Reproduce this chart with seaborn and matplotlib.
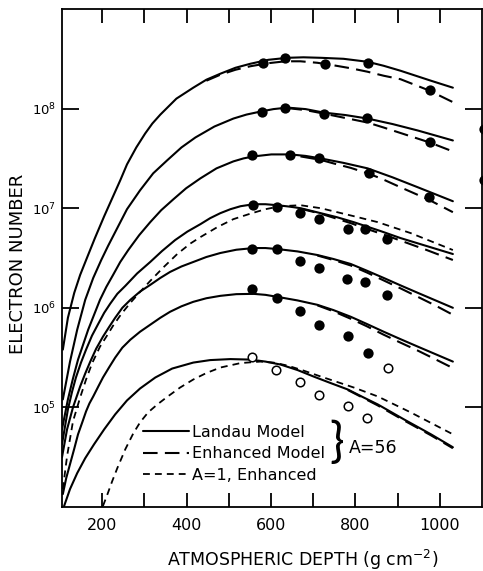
import numpy as np
import matplotlib
matplotlib.use("Agg")
import matplotlib.pyplot as plt
import seaborn as sns
from matplotlib.lines import Line2D
from matplotlib.ticker import NullLocator

# atmospheric depth (g cm^-2) and log10 of electron number
# Landau model, A=56, seven primary energies (top to bottom)
land1_x = [107, 119, 134, 148, 164, 183, 205, 224, 243, 259, 281, 302, 319, 338, 376, 416, 447, 480,
           516, 551, 594, 639, 677, 718, 772, 829, 867, 907, 979, 1031]
land1_n = [5.58, 5.90, 6.15, 6.33, 6.50, 6.70, 6.92, 7.10, 7.28, 7.44, 7.61, 7.75, 7.85, 7.94, 8.10, 8.21, 8.29, 8.35,
           8.41, 8.45, 8.49, 8.51, 8.515, 8.51, 8.50, 8.47, 8.43, 8.38, 8.28, 8.21]
land2_x = [107, 124, 141, 160, 179, 198, 214, 231, 259, 290, 321, 354, 388, 421, 466, 511, 542, 575,
           606, 639, 682, 725, 777, 829, 888, 948, 1031]
land2_n = [5.08, 5.46, 5.78, 6.08, 6.30, 6.48, 6.62, 6.76, 6.99, 7.18, 7.35, 7.48, 7.61, 7.71, 7.82, 7.90, 7.94, 7.97,
           7.995, 8.01, 7.995, 7.96, 7.935, 7.90, 7.845, 7.78, 7.68]
land3_x = [105, 119, 131, 143, 167, 195, 210, 226, 243, 262, 288, 314, 340, 369, 399, 433, 471, 511,
           535, 559, 601, 646, 682, 718, 772, 829, 888, 948, 1031]
land3_n = [4.78, 5.08, 5.29, 5.48, 5.78, 6.08, 6.21, 6.33, 6.46, 6.58, 6.73, 6.86, 6.98, 7.09, 7.20, 7.30, 7.40, 7.47,
           7.50, 7.52, 7.54, 7.54, 7.525, 7.50, 7.455, 7.40, 7.31, 7.21, 7.07]
land4_x = [105, 119, 129, 138, 150, 162, 176, 191, 205, 219, 236, 255, 283, 314, 342, 373, 402, 433,
           456, 480, 504, 528, 559, 587, 615, 642, 670, 694, 718, 756, 796, 860, 907, 969, 1031]
land4_n = [4.63, 4.98, 5.16, 5.30, 5.45, 5.58, 5.72, 5.84, 5.95, 6.04, 6.14, 6.22, 6.345, 6.46, 6.57, 6.68, 6.765, 6.84,
           6.90, 6.95, 6.99, 7.02, 7.04, 7.04, 7.03, 7.017, 7.00, 6.975, 6.95, 6.91, 6.86, 6.77, 6.70, 6.62, 6.54]
land5_x = [105, 117, 131, 148, 160, 172, 186, 202, 217, 231, 248, 267, 290, 314, 338, 361, 388, 416,
           447, 480, 518, 559, 587, 615, 663, 710, 748, 789, 827, 867, 907, 948, 1031]
land5_n = [4.50, 4.78, 5.00, 5.21, 5.34, 5.46, 5.59, 5.71, 5.81, 5.90, 6.00, 6.08, 6.163, 6.23, 6.30, 6.36, 6.415, 6.46,
           6.51, 6.55, 6.583, 6.60, 6.60, 6.59, 6.566, 6.53, 6.49, 6.44, 6.373, 6.30, 6.225, 6.15, 6.00]
land6_x = [107, 115, 124, 134, 143, 153, 162, 170, 179, 191, 202, 217, 231, 248, 267, 290, 314, 338,
           361, 388, 416, 447, 480, 518, 559, 587, 615, 663, 710, 748, 789, 827, 867, 907, 948, 1031]
land6_n = [4.13, 4.29, 4.43, 4.585, 4.73, 4.85, 4.96, 5.04, 5.11, 5.21, 5.30, 5.405, 5.50, 5.60, 5.68, 5.76, 5.83, 5.90,
           5.96, 6.015, 6.06, 6.096, 6.12, 6.137, 6.14, 6.13, 6.11, 6.074, 6.03, 5.977, 5.91, 5.838, 5.76, 5.685, 5.61, 5.46]
land7_x = [110, 124, 141, 160, 181, 205, 231, 259, 290, 326, 366, 416, 456, 504, 551, 587, 623, 663,
           701, 741, 782, 817, 853, 915, 979, 1031]
land7_n = [4.01, 4.18, 4.34, 4.49, 4.63, 4.78, 4.93, 5.07, 5.19, 5.30, 5.39, 5.45, 5.475, 5.485, 5.48, 5.46, 5.43, 5.375,
           5.31, 5.245, 5.18, 5.105, 5.03, 4.88, 4.73, 4.60]

# enhanced model, A=56 (drawn where it separates from the Landau curve)
enh1_x = [447, 480, 516, 551, 592, 634, 670, 710, 748, 789, 829, 867, 907, 943, 976, 1002, 1031]
enh1_n = [8.28, 8.34, 8.39, 8.425, 8.455, 8.475, 8.475, 8.46, 8.435, 8.405, 8.37, 8.33, 8.295, 8.235, 8.18, 8.125, 8.065]
enh2_x = [639, 682, 725, 777, 829, 867, 907, 976, 1031]
enh2_n = [8.005, 7.985, 7.95, 7.905, 7.86, 7.81, 7.755, 7.66, 7.57]
enh3_x = [670, 718, 748, 789, 829, 860, 907, 974, 1031]
enh3_n = [7.52, 7.485, 7.45, 7.405, 7.35, 7.30, 7.21, 7.085, 6.96]
enh4_x = [670, 718, 748, 789, 829, 867, 907, 969, 1031]
enh4_n = [6.995, 6.945, 6.905, 6.85, 6.79, 6.735, 6.675, 6.58, 6.48]
enh5_x = [710, 748, 789, 827, 867, 907, 948, 991, 1031]
enh5_n = [6.525, 6.48, 6.425, 6.355, 6.275, 6.195, 6.11, 6.02, 5.93]
enh6_x = [710, 748, 789, 827, 867, 907, 948, 991, 1031]
enh6_n = [6.025, 5.965, 5.89, 5.815, 5.73, 5.65, 5.57, 5.48, 5.395]
enh7_x = [782, 853, 915, 979, 1031]
enh7_n = [5.175, 5.02, 4.87, 4.72, 4.59]

# A=1, enhanced
prot_hi_x = [107, 117, 131, 148, 162, 176, 195, 210, 226, 245, 267, 290, 314, 345, 378, 409, 433, 473,
             511, 551, 587, 623, 670, 718, 796, 853, 931, 1031]
prot_hi_n = [4.18, 4.51, 4.86, 5.10, 5.28, 5.44, 5.61, 5.71, 5.82, 5.935, 6.05, 6.16, 6.27, 6.405, 6.54, 6.645, 6.71, 6.81,
             6.89, 6.945, 6.99, 7.02, 7.03, 7.00, 6.92, 6.86, 6.75, 6.58]
prot_lo_x = [202, 212, 224, 236, 255, 274, 290, 309, 331, 354, 385, 416, 447, 480, 528, 575, 606, 639,
             677, 718, 796, 853, 931, 1031]
prot_lo_n = [4.01, 4.12, 4.26, 4.39, 4.58, 4.74, 4.85, 4.95, 5.03, 5.105, 5.20, 5.28, 5.345, 5.40, 5.445, 5.46, 5.45, 5.42,
             5.37, 5.31, 5.20, 5.11, 4.95, 4.73]

# measured points
obs1_x = [580, 634, 729, 829, 976]
obs1_n = [8.46, 8.51, 8.45, 8.46, 8.19]
obs2_x = [578, 634, 725, 827, 976]
obs2_n = [7.97, 8.01, 7.95, 7.91, 7.66]
obs3_x = [556, 646, 715, 832, 974]
obs3_n = [7.53, 7.53, 7.50, 7.35, 7.11]
obs4_x = [558, 615, 668, 713, 782, 824, 874]
obs4_n = [7.03, 7.01, 6.95, 6.89, 6.79, 6.79, 6.69]
obs5_x = [556, 615, 668, 713, 779, 824, 874]
obs5_n = [6.59, 6.59, 6.47, 6.40, 6.29, 6.26, 6.13]
obs6_x = [556, 615, 668, 713, 782, 829]
obs6_n = [6.19, 6.10, 5.97, 5.83, 5.72, 5.55]
open_x = [556, 613, 668, 713, 782, 827, 877]
open_n = [5.51, 5.38, 5.26, 5.12, 5.01, 4.89, 5.40]
edge_x = [1105, 1105]
edge_n = [7.80, 7.28]

landau = [(land1_x, land1_n), (land2_x, land2_n), (land3_x, land3_n), (land4_x, land4_n),
          (land5_x, land5_n), (land6_x, land6_n), (land7_x, land7_n)]
enhanced = [(enh1_x, enh1_n), (enh2_x, enh2_n), (enh3_x, enh3_n), (enh4_x, enh4_n),
            (enh5_x, enh5_n), (enh6_x, enh6_n), (enh7_x, enh7_n)]
proton = [(prot_hi_x, prot_hi_n), (prot_lo_x, prot_lo_n)]
filled = [(obs1_x, obs1_n), (obs2_x, obs2_n), (obs3_x, obs3_n), (obs4_x, obs4_n),
          (obs5_x, obs5_n), (obs6_x, obs6_n)]

long_dash = (0, (7, 3.5))
short_dash = (0, (3.8, 2.8))

sns.set_style("ticks")
plt.rcParams['font.family'] = ['DejaVu Sans']
plt.rcParams['text.color'] = 'black'
plt.rcParams['axes.labelcolor'] = 'black'

fig = plt.figure(figsize=(4.83, 5.71), dpi=100)
ax = fig.add_axes([62 / 483, 64 / 571, 420 / 483, 498 / 571])
ax.set_yscale('log')

for xs, ns in landau:
    sns.lineplot(x=xs, y=np.power(10.0, ns), ax=ax, color='black', linewidth=1.5,
                 estimator=None, sort=False)
for xs, ns in enhanced:
    sns.lineplot(x=xs, y=np.power(10.0, ns), ax=ax, color='black', linewidth=1.5,
                 linestyle=long_dash, estimator=None, sort=False)
for xs, ns in proton:
    sns.lineplot(x=xs, y=np.power(10.0, ns), ax=ax, color='black', linewidth=1.3,
                 linestyle=short_dash, estimator=None, sort=False)

for xs, ns in filled:
    sns.scatterplot(x=xs, y=np.power(10.0, ns), ax=ax, color='black', s=55,
                    linewidth=0, zorder=4)
sns.scatterplot(x=edge_x, y=np.power(10.0, edge_n), ax=ax, color='black', s=55,
                linewidth=0, zorder=4, clip_on=False)
sns.scatterplot(x=open_x, y=np.power(10.0, open_n), ax=ax, color='black',
                facecolor='white', edgecolor='black', s=38, linewidth=1.1, zorder=4)

ax.set_xlim(105, 1100)
ax.set_ylim(1e4, 1e9)
ax.set_xticks(range(200, 1001, 100))
ax.set_xticklabels(['200', '', '400', '', '600', '', '800', '', '1000'])
ax.set_yticks([1e5, 1e6, 1e7, 1e8])
ax.set_yticklabels([r'$10^{5}$', r'$10^{6}$', r'$10^{7}$', r'$10^{8}$'])
ax.yaxis.set_minor_locator(NullLocator())
ax.xaxis.set_minor_locator(NullLocator())
ax.tick_params(axis='x', which='major', direction='in', top=True, length=10, width=1.3,
               labelsize=11.5, pad=8, colors='black')
ax.tick_params(axis='y', which='major', direction='in', right=True, length=12, width=1.3,
               labelsize=9.5, pad=4, colors='black')
for sp in ax.spines.values():
    sp.set_linewidth(1.3)
    sp.set_color('black')

ax.set_ylabel('ELECTRON NUMBER', fontsize=13, va='center', color='black')
ax.yaxis.set_label_coords(-0.105, 0.488)
ax.set_xlabel('ATMOSPHERIC DEPTH (g cm$^{-2}$)', fontsize=12.5, va='center', color='black')
ax.xaxis.set_label_coords(0.574, -0.106)

handles = [Line2D([], [], color='black', linewidth=1.5),
           Line2D([], [], color='black', linewidth=1.5, linestyle=long_dash),
           Line2D([], [], color='black', linewidth=1.3, linestyle=short_dash)]
labels = ['Landau Model', 'Enhanced Model', 'A=1, Enhanced']
leg = ax.legend(handles, labels, loc='center left', bbox_to_anchor=(0.193, 0.107), frameon=False,
                fontsize=11.5, handlelength=2.9, handletextpad=0.15, labelspacing=0.4,
                borderpad=0, borderaxespad=0)
for t in leg.get_texts():
    t.set_color('black')
ax.text(0.655, 0.128, '}', transform=ax.transAxes, fontsize=35, ha='center', va='center',
        family='Lato', color='black')
ax.text(0.683, 0.118, 'A=56', transform=ax.transAxes, fontsize=12.5, ha='left', va='center',
        color='black')

fig.savefig('out.png', dpi=100)
